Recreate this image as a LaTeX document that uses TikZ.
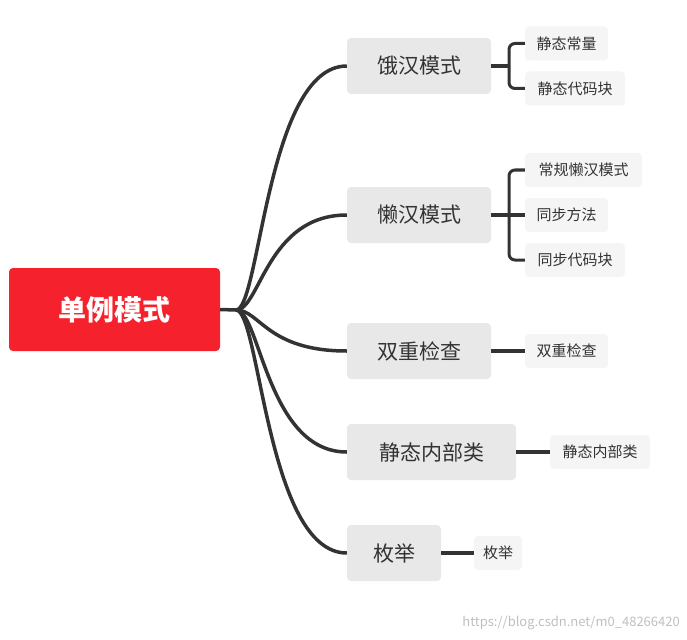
\documentclass[tikz,border=0pt]{standalone}
\usepackage{fontspec}
\setmainfont{Noto Sans CJK SC}
\definecolor{rootred}{HTML}{F5222D}
\definecolor{lone}{HTML}{E8E8E8}
\definecolor{ltwo}{HTML}{F5F5F5}
\definecolor{lnk}{HTML}{333333}
\begin{document}
\begin{tikzpicture}[x=1pt,y=-1pt,
  rootbox/.style={fill=rootred,rounded corners=4pt,text=white,font=\fontsize{28}{30}\selectfont\bfseries,minimum width=211pt,minimum height=83pt,inner sep=0pt},
  onebox/.style={fill=lone,rounded corners=4pt,text=black!80,font=\fontsize{21}{24}\selectfont,minimum height=56pt,inner sep=0pt},
  twobox/.style={fill=ltwo,rounded corners=4pt,text=black!80,font=\fontsize{15}{18}\selectfont,minimum height=34pt,inner sep=0pt},
  lk/.style={draw=lnk,line width=3.5pt},
  br/.style={draw=lnk,line width=3pt,rounded corners=6pt}]
\useasboundingbox (0,0) rectangle (687,639);
\node[rootbox] (r) at (114.5,309.5) {单例模式};
\node[onebox,minimum width=144pt] (a) at (419,66) {饿汉模式};
\node[onebox,minimum width=144pt] (b) at (419,215) {懒汉模式};
\node[onebox,minimum width=144pt] (c) at (419,351) {双重检查};
\node[onebox,minimum width=169pt] (d) at (431.5,452) {静态内部类};
\node[onebox,minimum width=94pt] (e) at (394,553) {枚举};
\node[twobox,minimum width=83pt] (a1) at (566.5,43.5) {静态常量};
\node[twobox,minimum width=100pt] (a2) at (575,88.5) {静态代码块};
\node[twobox,minimum width=117pt] (b1) at (583.5,170) {常规懒汉模式};
\node[twobox,minimum width=83pt] (b2) at (566.5,215) {同步方法};
\node[twobox,minimum width=100pt] (b3) at (575,260) {同步代码块};
\node[twobox,minimum width=83pt] (c1) at (566.5,351) {双重检查};
\node[twobox,minimum width=100pt] (d1) at (600,452) {静态内部类};
\node[twobox,minimum width=48pt] (e1) at (498,553) {枚举};
\coordinate (h) at (236,310);
\draw[lk] (r.east) -- (h);
\foreach \n in {a,b,c,d,e}
  \draw[lk] (h) .. controls +(24,0) and +(-80,0) .. (\n.west);
% brackets
\coordinate (ja) at (509,66);
\draw[lk] (a.east) -- (ja);
\draw[br] (a1.west) -| (ja) |- (a2.west);
\coordinate (jb) at (509,215);
\draw[lk] (b.east) -- (b2.west);
\draw[br] (b1.west) -| (jb) |- (b3.west);
\draw[lk] (c.east) -- (c1.west);
\draw[lk] (d.east) -- (d1.west);
\draw[lk] (e.east) -- (e1.west);
\node[text=black!25,font=\fontsize{13}{15}\selectfont,anchor=south east,inner sep=0pt] (wm) at (680,630) {https://blog.csdn.net/m0\_48266420};
\end{tikzpicture}
\end{document}
